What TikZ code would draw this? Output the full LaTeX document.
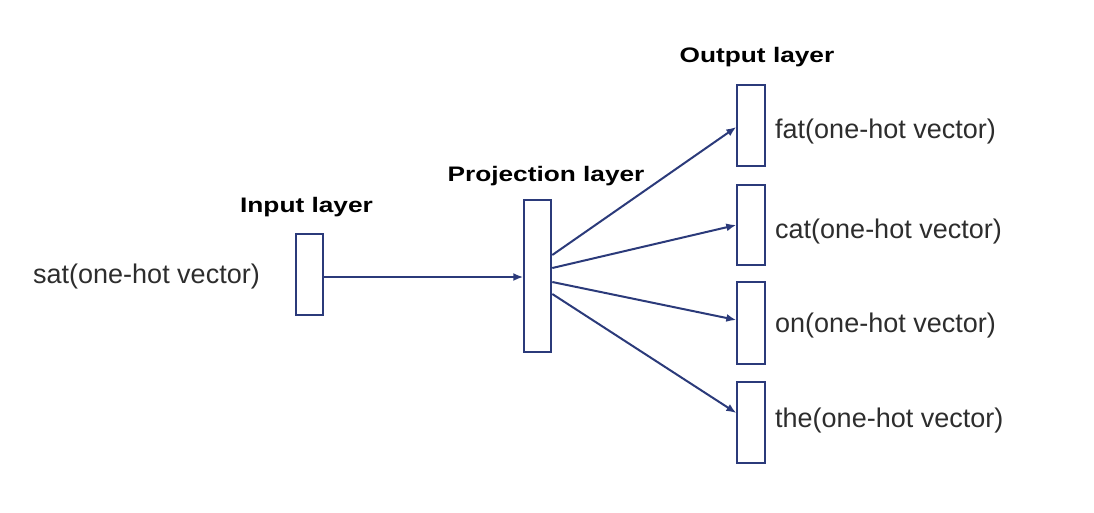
\documentclass[tikz,border=0pt]{standalone}
\usepackage{fontspec}
\setmainfont{Liberation Sans}
\newfontfamily\lblfont[FakeStretch=1.25]{Liberation Sans}
\usetikzlibrary{arrows.meta}
\definecolor{navy}{RGB}{43,58,122}
\definecolor{txt}{RGB}{45,45,45}
\tikzset{
  layerbox/.style={draw=navy, line width=2pt, fill=white, inner sep=0pt, minimum width=27pt},
  conn/.style={draw=navy, line width=2pt, -{Latex[length=10pt,width=8pt]}},
  heading/.style={inner sep=0pt, anchor=base, font=\lblfont\bfseries\fontsize{21}{25}\selectfont, text=black},
  wordlbl/.style={inner sep=0pt, anchor=base west, font=\fontsize{27}{32}\selectfont, text=txt}
}
\begin{document}
\begin{tikzpicture}[x=1pt,y=-1pt]
\useasboundingbox (0,0) rectangle (1094,512);
% boxes
\node[layerbox, minimum height=81pt] (inp) at (309.5,274) {};
\node[layerbox, minimum height=152pt] (proj) at (537.8,276) {};
\node[layerbox, minimum width=28pt, minimum height=81pt] (o1) at (751.3,125) {};
\node[layerbox, minimum width=28pt, minimum height=80pt] (o2) at (751.3,225) {};
\node[layerbox, minimum width=28pt, minimum height=82pt] (o3) at (751.3,322.5) {};
\node[layerbox, minimum width=28pt, minimum height=81pt] (o4) at (751.3,422.5) {};
% headings
\node[heading] (hin) at (306.5,212) {Input layer};
\node[heading] (hproj) at (546,181) {Projection layer};
\node[heading] (hout) at (757,62) {Output layer};
% word labels
\node[wordlbl] (lsat) at (33,283) {sat(one-hot vector)};
\node[wordlbl] (lfat) at (775,138) {fat(one-hot vector)};
\node[wordlbl] (lcat) at (775,238) {cat(one-hot vector)};
\node[wordlbl] (lon) at (775,332) {on(one-hot vector)};
\node[wordlbl] (lthe) at (775,427) {the(one-hot vector)};
% connectors
\draw[conn] ([yshift=-3pt]inp.east) -- ([yshift=-3pt]inp.east -| proj.west);
\draw[conn] ([yshift=21pt]proj.east) -- ([yshift=-2pt]o1.west);
\draw[conn] ([yshift=8pt]proj.east) -- ([yshift=0pt]o2.west);
\draw[conn] ([yshift=-6pt]proj.east) -- ([yshift=2.5pt]o3.west);
\draw[conn] ([yshift=-18pt]proj.east) -- ([yshift=9.5pt]o4.west);
\end{tikzpicture}
\end{document}
